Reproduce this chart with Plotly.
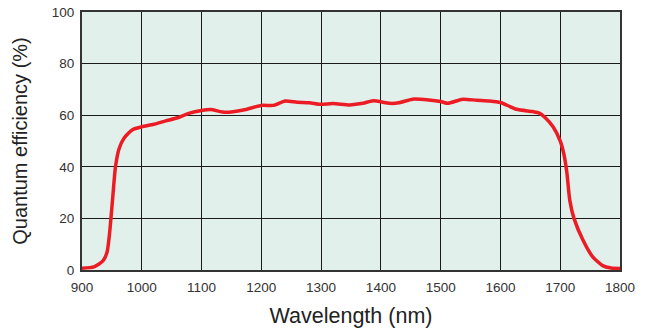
import plotly.graph_objects as go

wavelength = [900, 920, 935, 942, 946, 951, 956, 962, 970, 985, 1000, 1020, 1040, 1060, 1080,
              1100, 1115, 1140, 1170, 1200, 1220, 1240, 1260, 1280, 1300, 1320, 1348, 1370,
              1387, 1415, 1430, 1453, 1480, 1500, 1512, 1537, 1560, 1582, 1600, 1627, 1654,
              1665, 1675, 1688, 1700, 1706, 1711, 1716, 1723, 1738, 1754, 1771, 1785, 1800]
qe = [0.7, 1.2, 3.5, 7, 14, 27, 40, 47, 51, 54.5, 55.5, 56.5, 57.8, 59, 60.8,
      61.8, 62.2, 61.1, 62, 63.8, 63.8, 65.5, 65, 64.8, 64.2, 64.5, 64, 64.6,
      65.6, 64.6, 64.8, 66.2, 65.9, 65.3, 64.6, 66.2, 65.8, 65.5, 64.9, 62.3, 61.4,
      60.8, 59, 55.5, 50, 45, 38, 27, 20, 11.6, 5.2, 1.7, 0.8, 0.6]
x_ticks = [900, 1000, 1100, 1200, 1300, 1400, 1500, 1600, 1700, 1800]
y_ticks = [0, 20, 40, 60, 80, 100]

fig = go.Figure()
fig.add_trace(go.Scatter(x=wavelength, y=qe, mode="lines",
                         line=dict(color="#ec1c24", width=3.5, shape="spline", smoothing=0.6),
                         hoverinfo="skip"))

font_family = "Liberation Sans, Arial, sans-serif"
fig.update_layout(
    width=649, height=331,
    margin=dict(l=82, r=29, t=12, b=61),
    paper_bgcolor="white",
    plot_bgcolor="#e2f0eb",
    showlegend=False,
    font=dict(family=font_family, color="#333333"),
    xaxis=dict(range=[900, 1800], tickvals=x_ticks, ticks="", showgrid=True,
               gridcolor="#1a1a1a", gridwidth=1, zeroline=False, automargin=False,
               showline=True, mirror=True, linecolor="#333333", linewidth=2,
               ticklabelstandoff=4,
               tickfont=dict(size=13.5, color="#333333"),
               title=dict(text="Wavelength (nm)", font=dict(size=21.5, color="#222222"), standoff=14)),
    yaxis=dict(range=[0, 100], tickvals=y_ticks, ticks="", showgrid=True,
               gridcolor="#1a1a1a", gridwidth=1, zeroline=False, automargin=False,
               showline=True, mirror=True, linecolor="#333333", linewidth=2,
               ticklabelstandoff=3,
               tickfont=dict(size=13.5, color="#333333"),
               title=dict(text="Quantum efficiency (%)", font=dict(size=20, color="#222222"), standoff=19)),
)

fig.write_html("out.html",
               config={"displayModeBar": False},
               post_script="document.body.style.margin='0';document.body.style.overflow='hidden';")
